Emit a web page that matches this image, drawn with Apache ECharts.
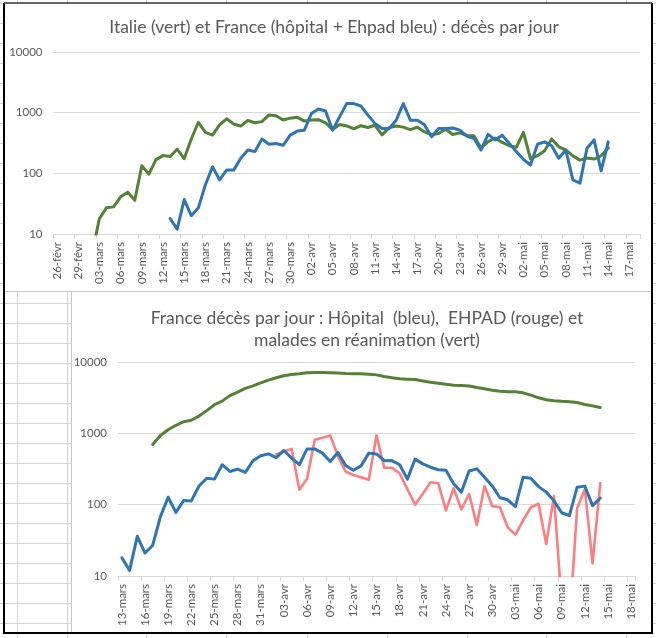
<!DOCTYPE html>
<html><head><meta charset="utf-8">
<script src="https://cdn.jsdelivr.net/npm/echarts@6/dist/echarts.min.js"></script>
<style>html,body{margin:0;padding:0;background:#fff}#c{width:656px;height:638px}</style>
</head><body><div id="c"></div>
<script>
// ---- categories (26-févr .. 18-mai) ----
const dates = [
 '26-févr','27-févr','28-févr','29-févr',
 '01-mars','02-mars','03-mars','04-mars','05-mars','06-mars','07-mars','08-mars','09-mars','10-mars',
 '11-mars','12-mars','13-mars','14-mars','15-mars','16-mars','17-mars','18-mars','19-mars','20-mars',
 '21-mars','22-mars','23-mars','24-mars','25-mars','26-mars','27-mars','28-mars','29-mars','30-mars','31-mars',
 '01-avr','02-avr','03-avr','04-avr','05-avr','06-avr','07-avr','08-avr','09-avr','10-avr',
 '11-avr','12-avr','13-avr','14-avr','15-avr','16-avr','17-avr','18-avr','19-avr','20-avr',
 '21-avr','22-avr','23-avr','24-avr','25-avr','26-avr','27-avr','28-avr','29-avr','30-avr',
 '01-mai','02-mai','03-mai','04-mai','05-mai','06-mai','07-mai','08-mai','09-mai','10-mai',
 '11-mai','12-mai','13-mai','14-mai','15-mai','16-mai','17-mai','18-mai'
];
// bottom chart: 13-mars .. 18-mai
const datesFrance = dates.slice(16);

// ---- top chart: décès par jour ----
const italie = [
 null,null,null,null,null,5,18,27,28,41,49,36,133,97,168,196,189,250,175,368,
 694,475,427,627,793,651,601,743,683,712,919,889,756,812,837,727,760,766,681,525,
 636,604,542,610,570,619,431,566,602,578,525,575,482,433,454,534,437,464,420,415,
 260,333,382,323,285,269,474,174,195,236,369,274,243,194,165,179,172,195,262,
 null,null,null,null
];
const franceTotal = [
 null,null,null,null,null,null,null,null,null,null,null,null,null,null,null,null,
 18,12,37,20,27,65,128,78,113,113,177,242,228,367,302,310,290,426,497,515,
 970,1150,1065,515,860,1410,1410,1290,910,660,550,550,750,1410,750,750,630,400,550,550,
 560,515,410,375,242,440,355,426,310,228,170,137,302,330,285,177,242,78,69,260,
 355,110,330,null,null,null,null
];

// ---- bottom chart ----
const hopital = [
 18,12,36,21,27,68,127,78,114,113,183,235,228,363,292,315,283,413,484,515,
 457,575,450,363,605,605,528,403,540,355,303,350,528,515,413,415,363,228,435,373,
 335,309,303,196,150,297,318,243,183,125,117,94,243,235,179,150,113,77,70,176,
 182,97,124,null,null,null,null
];
const ehpad = [
 null,null,null,null,null,null,null,null,null,null,null,null,null,null,null,null,null,null,null,null,
 507,560,605,162,230,810,870,935,480,290,260,243,223,935,330,330,275,165,100,142,
 206,200,83,170,86,142,52,183,96,92,48,38,60,92,103,28,133,4,2,89,
 165,15,200,null,null,null,null
];
const reanimation = [
 null,null,null,null,699,931,1122,1297,1453,1525,1746,2082,2516,2827,3375,3787,4273,4632,5107,5565,
 6017,6399,6662,6838,7072,7131,7148,7066,7004,6883,6845,6821,6730,6599,6248,6027,5833,5744,5683,5433,
 5218,5053,4870,4725,4682,4608,4387,4207,4019,3878,3827,3819,3696,3430,3147,2961,2868,2812,2776,2712,
 2542,2428,2299,null,null,null,null
];

const titleTop = 'Italie (vert) et France (hôpital + Ehpad bleu) : décès par jour';
const titleBottom = 'France décès par jour : Hôpital  (bleu),  EHPAD (rouge) et\nmalades en réanimation (vert)';

const GREEN = '#548235', BLUE = '#2E75B6', RED = '#FF7C80';
const TXT = '#595959', GRID = '#d9d9d9', FONT = 'Lato';

// ---- spreadsheet background (decoration) ----
const sheetCols = [17, 67, 146, 226, 307, 387, 467, 546, 626];
const sheetRows = [];
for (let y = 3; y <= 638; y += 20) sheetRows.push(y);
const SHEET = '#d4d4d4';
const g = [];
function ln(x1, y1, x2, y2, stroke, w, z) {
  g.push({type: 'line', silent: true, z: z || 1,
    shape: {x1, y1, x2, y2}, style: {stroke, lineWidth: w}});
}
sheetCols.forEach(x => { ln(x + .5, 0, x + .5, 3, SHEET, 1); ln(x + .5, 634, x + .5, 638, SHEET, 1); });
sheetRows.forEach(y => { ln(0, y + .5, 4, y + .5, SHEET, 1); ln(652, y + .5, 656, y + .5, SHEET, 1); });
[17, 67].forEach(x => ln(x + .5, 291, x + .5, 633, SHEET, 1));
sheetRows.filter(y => y > 291 && y < 633).forEach(y => ln(4, y + .5, 71, y + .5, SHEET, 1));
ln(4, 291.5, 652, 291.5, '#c8c8c8', 1);
ln(71.5, 291, 71.5, 633, '#c8c8c8', 1);
// frame
ln(4, 3, 4, 634, '#000', 2, 5);
ln(652, 3, 652, 634, '#000', 2, 5);
ln(4, 3, 652, 3, '#333', 1.5, 5);
ln(4, 633, 652, 633, '#000', 2, 5);

function xAxis(gridIndex, data) {
  return {
    type: 'category', gridIndex, data, boundaryGap: true,
    axisLine: {lineStyle: {color: GRID, width: 1}},
    axisTick: {show: true, interval: 2, length: 5, lineStyle: {color: GRID}},
    axisLabel: {interval: 2, rotate: 90, margin: 8, color: TXT, fontFamily: FONT, fontSize: 11.5}
  };
}
function yAxis(gridIndex) {
  return {
    type: 'log', logBase: 10, min: 10, max: 10000, gridIndex,
    axisLine: {show: false}, axisTick: {show: false},
    axisLabel: {color: TXT, fontFamily: FONT, fontSize: 11.5, margin: 11,
                formatter: v => String(Math.round(v))},
    splitLine: {lineStyle: {color: GRID, width: 1}}
  };
}
function line(name, data, color, xi, w) {
  return {
    name, type: 'line', data, xAxisIndex: xi, yAxisIndex: xi,
    symbol: 'none', smooth: false, connectNulls: false, clip: true,
    lineStyle: {color, width: w || 3, cap: 'round', join: 'round'},
    itemStyle: {color}, animation: false
  };
}

const chart = echarts.init(document.getElementById('c'), null, {renderer: 'canvas'});
chart.setOption({
  backgroundColor: '#fff',
  animation: false,
  title: [
    {text: titleTop, left: 329, top: 13, textAlign: 'center',
     textStyle: {color: TXT, fontFamily: FONT, fontSize: 17.5, fontWeight: 'normal'}},
    {text: titleBottom, left: 362, top: 302, textAlign: 'center',
     textStyle: {color: TXT, fontFamily: FONT, fontSize: 17.5, fontWeight: 'normal', lineHeight: 22}}
  ],
  grid: [
    {left: 53.5, right: 16, top: 52, height: 182, containLabel: false},
    {left: 118, right: 21, top: 362, height: 214, containLabel: false}
  ],
  xAxis: [xAxis(0, dates), xAxis(1, datesFrance)],
  yAxis: [yAxis(0), yAxis(1)],
  series: [
    line('Italie', italie, GREEN, 0),
    line('France (hôpital + Ehpad)', franceTotal, BLUE, 0),
    line('Réanimation', reanimation, GREEN, 1),
    line('EHPAD', ehpad, RED, 1, 2.6),
    line('Hôpital', hopital, BLUE, 1)
  ],
  graphic: g
});
</script>
</body></html>
